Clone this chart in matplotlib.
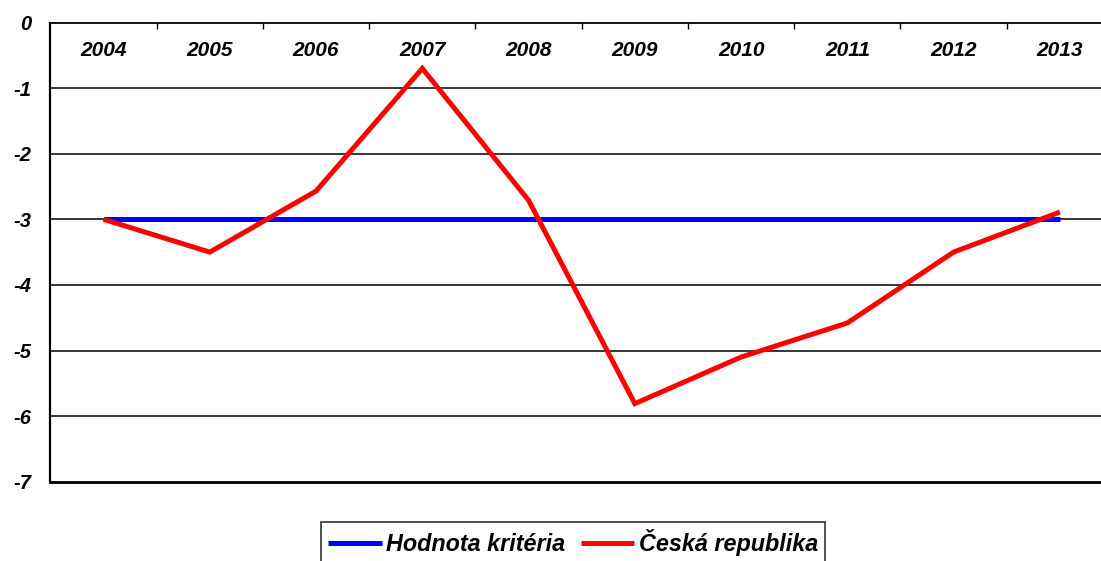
import matplotlib
matplotlib.use("Agg")
import matplotlib.pyplot as plt
from matplotlib.ticker import FixedLocator

years = ["2004", "2005", "2006", "2007", "2008", "2009", "2010", "2011", "2012", "2013"]
kriterium = [-3, -3, -3, -3, -3, -3, -3, -3, -3, -3]
cr = [-3.0, -3.5, -2.57, -0.70, -2.71, -5.81, -5.10, -4.58, -3.50, -2.89]
yticks = [0, -1, -2, -3, -4, -5, -6, -7]

plt.rcParams['font.family'] = ['Liberation Sans', 'DejaVu Sans']

W, H = 1101, 561
fig = plt.figure(figsize=(W / 100, H / 100), dpi=100)
left, right = 50.4, 1113.0
top, bottom = 22.5, 481.7
ax = fig.add_axes([left / W, 1 - bottom / H, (right - left) / W, (bottom - top) / H])

x = list(range(len(years)))
ax.plot(x, kriterium, color='#0000FF', lw=3.6, solid_capstyle='butt', zorder=3, label='Hodnota kritéria')
ax.plot(x, cr, color='#FF0000', lw=3.6, solid_capstyle='butt', solid_joinstyle='miter', zorder=4, label='Česká republika')

ax.set_xlim(-0.5, len(years) - 0.5)
ax.set_ylim(-7, 0)

# grid lines
for t in yticks[1:-1]:
    ax.axhline(t, color='black', lw=1.1, zorder=1)

ax.spines['right'].set_visible(False)
ax.spines['left'].set_linewidth(1.6)
ax.spines['bottom'].set_linewidth(2.0)
ax.spines['top'].set_linewidth(1.3)

ax.set_yticks(yticks)
ax.set_yticklabels([str(t) for t in yticks], fontsize=14.5, fontweight='bold', fontstyle='italic')
ax.tick_params(axis='y', length=0, pad=13.5)

# category boundary ticks on top axis
ax.xaxis.set_major_locator(FixedLocator([i + 0.5 for i in range(len(years) - 1)]))
ax.xaxis.set_ticks_position('top')
ax.tick_params(axis='x', direction='in', length=4, width=1, labeltop=False, labelbottom=False)

for i, yr in enumerate(years):
    ax.text(i, -0.43, yr, ha='center', va='center', fontsize=15, fontweight='bold', fontstyle='italic')

leg = fig.legend(loc='upper left', bbox_to_anchor=(321 / W, 1 - 522 / H), ncol=2,
                 prop={'size': 16.8, 'weight': 'bold', 'style': 'italic'},
                 handlelength=2.3, handletextpad=0.2, columnspacing=0.65,
                 borderpad=0.3, borderaxespad=0, frameon=True, fancybox=False)
leg.get_frame().set_edgecolor('black')
leg.get_frame().set_linewidth(1.2)

fig.savefig('out.png', dpi=100)
